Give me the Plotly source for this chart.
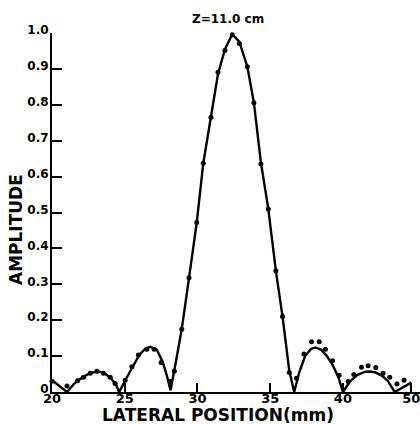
import plotly.graph_objects as go

# Measured points (dots)
meas_x = [20.0, 21.03, 21.76, 22.17, 22.63, 23.09, 23.54, 24.0, 24.34, 25.03, 25.49, 25.94,
          26.52, 27.02, 27.5, 28.12, 28.41, 28.92, 29.42, 29.95, 30.40, 30.93, 31.41, 31.89,
          32.39, 32.88, 33.43, 33.88, 34.36, 34.87, 35.39, 35.85, 36.31, 36.81, 37.32, 37.84,
          38.37, 38.80, 39.29, 39.74, 40.36, 40.75, 41.28, 41.73, 42.26, 42.76, 43.22, 43.72, 44.2]
meas_y = [0.03, 0.017, 0.031, 0.041, 0.052, 0.058, 0.052, 0.041, 0.024, 0.033, 0.07, 0.103,
          0.119, 0.119, 0.082, 0.029, 0.058, 0.175, 0.318, 0.472, 0.637, 0.765, 0.891, 0.951,
          0.995, 0.971, 0.906, 0.806, 0.635, 0.510, 0.338, 0.210, 0.054, 0.038, 0.106, 0.140,
          0.140, 0.119, 0.087, 0.047, 0.029, 0.049, 0.069, 0.073, 0.068, 0.052, 0.041, 0.022, 0.033]

# Theoretical curve (solid line)
curve_x = [20.0, 21.03, 21.5, 22.0, 22.5, 23.1, 23.6, 24.1, 24.4, 24.62, 25.0, 25.5, 26.0, 26.4,
           26.75, 27.2, 27.6, 27.9, 28.15, 28.5, 28.92, 29.42, 29.95, 30.4, 30.93, 31.41, 31.89,
           32.4, 32.88, 33.43, 33.88, 34.36, 34.87, 35.39, 35.85, 36.31, 36.65, 37.0, 37.4, 37.8,
           38.1, 38.5, 38.9, 39.3, 39.7, 40.0, 40.5, 41.0, 41.5, 41.8, 42.2, 42.7, 43.1, 43.56, 44.7]
curve_y = [0.033, 0.0, 0.022, 0.038, 0.050, 0.058, 0.053, 0.036, 0.02, 0.0, 0.03, 0.068, 0.103,
           0.12, 0.126, 0.118, 0.085, 0.045, 0.005, 0.08, 0.175, 0.318, 0.472, 0.637, 0.765, 0.885,
           0.955, 0.997, 0.975, 0.906, 0.806, 0.640, 0.51, 0.338, 0.210, 0.06, 0.0, 0.055, 0.1,
           0.12, 0.124, 0.118, 0.1, 0.075, 0.04, 0.0, 0.03, 0.048, 0.056, 0.057, 0.055, 0.045,
           0.03, 0.0, 0.026]

x_tickvals = [20, 25, 30, 35, 40, 44.7]
x_ticktext = ["20", "25", "30", "35", "40", "50"]
y_tickvals = [0, 0.1, 0.2, 0.3, 0.4, 0.5, 0.6, 0.7, 0.8, 0.9, 1.0]
y_ticktext = ["0", "0.1", "0.2", "0.3", "0.4", "0.5", "0.6", "0.7", "0.8", "0.9", "1.0"]

FONT = "DejaVu Sans, sans-serif"

fig = go.Figure()
fig.add_trace(go.Scatter(x=curve_x, y=curve_y, mode="lines",
                         line=dict(color="black", width=2.4), cliponaxis=False,
                         showlegend=False, hoverinfo="skip"))
fig.add_trace(go.Scatter(x=meas_x, y=meas_y, mode="markers",
                         marker=dict(color="black", size=5), cliponaxis=False,
                         showlegend=False))

L, R, T, B = 52, 0, 33, 32
W, H = 420, 424

fig.update_layout(
    width=W, height=H,
    margin=dict(l=L, r=R, t=T, b=B),
    paper_bgcolor="white", plot_bgcolor="white",
    font=dict(family=FONT, color="black", size=12, weight="bold"),
    xaxis=dict(range=[20, 45.3], showgrid=False, zeroline=False,
               showline=True, linecolor="black", linewidth=2,
               ticks="inside", ticklen=9, tickwidth=1.5, tickcolor="black",
               tickvals=x_tickvals, ticktext=x_ticktext, ticklabelstandoff=-7,
               ticklabeloverflow="allow",
               tickfont=dict(family=FONT, size=13, weight="bold")),
    yaxis=dict(range=[0, 1.0], showgrid=False, zeroline=False,
               showline=True, linecolor="black", linewidth=2,
               ticks="inside", ticklen=10, tickwidth=1.5, tickcolor="black",
               tickvals=y_tickvals, ticktext=y_ticktext, ticklabelstandoff=-1,
               ticklabelshift=-3, ticklabeloverflow="allow",
               tickfont=dict(family=FONT, size=12, weight="bold")),
)

pw, ph = W - L - R, H - T - B


def pix(px_x, px_y):
    return (px_x - L) / pw, (H - px_y - B) / ph


anns = []
for text, px_x, px_y, size, angle in [
    ("Z=11.0 cm", 228, 19, 12, 0),
    ("LATERAL POSITION(mm)", 218, 415, 17, 0),
    ("AMPLITUDE", 16, 230, 17, -90),
]:
    ax, ay = pix(px_x, px_y)
    anns.append(dict(text=text, x=ax, y=ay, xref="paper", yref="paper",
                     xanchor="center", yanchor="middle", showarrow=False,
                     textangle=angle, font=dict(family=FONT, size=size, weight="bold")))
fig.update_layout(annotations=anns)

fig.write_html("out.html")
